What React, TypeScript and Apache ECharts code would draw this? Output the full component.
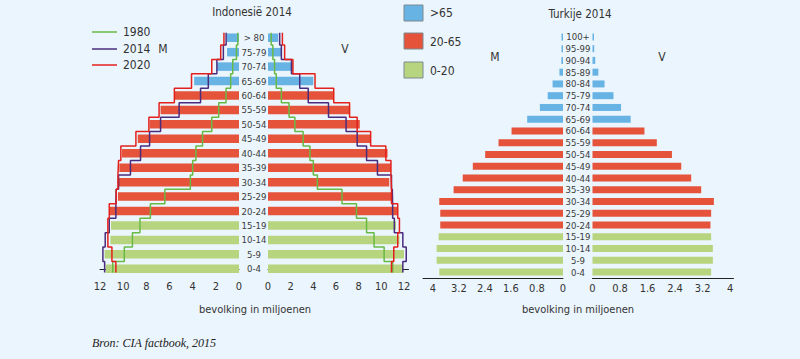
import React, { useEffect, useRef } from 'react';
import * as echarts from 'echarts';

// ---------- data ----------
const indoAges = ['0-4', '5-9', '10-14', '15-19', '20-24', '25-29', '30-34', '35-39', '40-44', '45-49', '50-54', '55-59', '60-64', '65-69', '70-74', '75-79', '> 80'];
const indoBarsM = [11.5, 11.6, 11.1, 11.05, 11.2, 10.45, 10.4, 10.33, 10.1, 8.74, 7.7, 6.77, 5.6, 3.87, 1.9, 1.03, 1.05];
const indoBarsV = [11.9, 12.0, 11.6, 11.3, 11.45, 10.9, 10.7, 10.85, 10.55, 9.06, 8.1, 7.2, 5.8, 4.0, 2.2, 1.2, 0.9];
const m1980 = [10.9, 9.9, 9.2, 8.55, 7.65, 6.4, 4.2, 4.0, 3.72, 3.15, 2.35, 1.75, 1.12, 0.72, 0.54, 0.22, 0.1];
const m2014 = [11.6, 11.75, 11.55, 11.2, 10.63, 10.6, 10.4, 9.37, 8.5, 7.72, 6.77, 5.17, 3.32, 2.65, 1.91, 1.35, 1.11];
const m2020 = [10.63, 10.97, 11.32, 11.32, 11.2, 10.6, 10.45, 10.4, 10.2, 8.9, 7.78, 6.9, 5.58, 4.1, 2.35, 1.58, 1.3];
const v1980 = [11.0, 10.25, 9.36, 8.7, 7.81, 6.53, 4.36, 4.0, 3.7, 3.1, 2.37, 1.86, 1.18, 0.73, 0.58, 0.43, 0.28];
const v2014 = [11.9, 12.2, 11.9, 11.15, 11.0, 10.97, 10.9, 9.66, 8.7, 7.87, 6.89, 5.34, 3.55, 2.8, 2.07, 1.18, 1.03];
const v2020 = [10.9, 11.1, 11.45, 11.6, 11.45, 10.9, 10.85, 10.85, 10.4, 9.06, 7.87, 7.2, 5.8, 4.15, 2.2, 1.47, 1.27];

const turAges = ['0-4', '5-9', '10-14', '15-19', '20-24', '25-29', '30-34', '35-39', '40-44', '45-49', '50-54', '55-59', '60-64', '65-69', '70-74', '75-79', '80-84', '85-89', '90-94', '95-99', '100+'];
const turM = [3.8, 3.88, 3.88, 3.82, 3.77, 3.77, 3.8, 3.36, 3.08, 2.77, 2.39, 1.98, 1.58, 1.1, 0.71, 0.47, 0.32, 0.11, 0.05, 0.04, 0.04];
const turV = [3.45, 3.5, 3.5, 3.45, 3.43, 3.45, 3.53, 3.16, 2.87, 2.58, 2.31, 1.87, 1.51, 1.11, 0.83, 0.61, 0.35, 0.17, 0.08, 0.05, 0.04];

const indoTicks = [0, 2, 4, 6, 8, 10, 12];
const turTicks = [0, 0.8, 1.6, 2.4, 3.2, 4];

const groupNames = ['>65', '20-65', '0-20'];
const lineYears = ['1980', '2014', '2020'];

// ---------- styles ----------
const BG = '#EBF5FD';
const BLUE = '#67B3E4';
const RED = '#E4533A';
const GREEN = '#B7D47E';
const LINE_GREEN = '#68BA45';
const LINE_PURPLE = '#4A2C7E';
const LINE_RED = '#E3201C';
const LINE_COLORS = [LINE_GREEN, LINE_PURPLE, LINE_RED];
const TXT = '#333333';
const FONT = "'DejaVu Sans Condensed', 'Liberation Sans Narrow', 'Roboto Condensed', Roboto, sans-serif";

const ageColor = (i: number) => (i <= 3 ? GREEN : i <= 12 ? RED : BLUE);

function steps(vals: number[]) {
  const pts: number[][] = [];
  const n = vals.length;
  vals.forEach((v, i) => {
    pts.push([v, i === 0 ? -0.25 : i - 0.5]);
    pts.push([v, i === n - 1 ? n - 0.65 : i + 0.5]);
  });
  return pts;
}

function tickFormatter(ticks: number[]) {
  return (v: number) => {
    const hit = ticks.find((t) => Math.abs(t - v) < 1e-6);
    return hit === undefined ? '' : String(hit);
  };
}

export default function App() {
  const ref = useRef<HTMLDivElement>(null);

  useEffect(() => {
    document.body.style.margin = '0';
    document.body.style.background = BG;
    if (!ref.current) return;
    const chart = echarts.init(ref.current, null, { renderer: 'svg' });

    const xBase = (gridIndex: number, max: number, interval: number, inverse: boolean, ticks: number[]) => ({
      type: 'value',
      gridIndex,
      min: 0,
      max,
      interval,
      inverse,
      axisLine: { show: true, lineStyle: { color: '#222', width: 1 } },
      axisTick: { show: false },
      splitLine: { show: false },
      axisLabel: { color: TXT, fontSize: 11, margin: 5, fontFamily: FONT, formatter: tickFormatter(ticks) },
    });

    const lineSeries = (name: string, vals: number[], color: string, xi: number, yi: number) => ({
      type: 'line',
      name,
      xAxisIndex: xi,
      yAxisIndex: yi,
      data: steps(vals),
      symbol: 'none',
      showSymbol: false,
      lineStyle: { color, width: 1.5 },
      itemStyle: { color },
      z: 5,
    });

    const barSeries = (vals: number[], xi: number, yi: number, w: number) => ({
      type: 'bar',
      xAxisIndex: xi,
      yAxisIndex: yi,
      data: vals,
      barWidth: w,
      barMinHeight: 1.5,
      itemStyle: { color: (p: any) => ageColor(p.dataIndex) },
      z: 2,
    });

    const legendBoxes = groupNames.map((g, i) => ({
      type: 'rect',
      shape: { x: 404, y: [5, 33, 62][i], width: 19, height: 16 },
      style: { fill: [BLUE, RED, GREEN][i], stroke: '#7d8a8f', lineWidth: 1 },
    }));
    const legendTexts = groupNames.map((g, i) => ({
      type: 'text',
      x: 430,
      y: [13, 42, 71][i],
      style: { text: g, fill: TXT, fontSize: 12, fontFamily: FONT, verticalAlign: 'middle' },
    }));
    const lineLegendY = [32, 49, 65];
    const lineLegend = lineYears.flatMap((yr, i) => [
      {
        type: 'line',
        shape: { x1: 92, y1: lineLegendY[i], x2: 117, y2: lineLegendY[i] },
        style: { stroke: LINE_COLORS[i], lineWidth: 1.5 },
      },
      {
        type: 'text',
        x: 123,
        y: lineLegendY[i],
        style: { text: yr, fill: TXT, fontSize: 12, fontFamily: FONT, verticalAlign: 'middle' },
      },
    ]);

    const txt = (text: string, x: number, y: number, extra: any = {}) => ({
      type: 'text',
      x,
      y,
      style: { text, fill: TXT, fontSize: 12, fontFamily: FONT, align: 'center', verticalAlign: 'middle', ...extra },
    });

    const catLabel = { align: 'center', margin: 14, color: '#3a3a3a', fontSize: 9.5, fontFamily: FONT, interval: 0 };

    chart.setOption({
      animation: false,
      backgroundColor: BG,
      textStyle: { fontFamily: FONT },
      grid: [
        { left: 100, right: 561, top: 30.5, bottom: 83 },
        { left: 268, right: 391.5, top: 30.5, bottom: 83 },
        { left: 423, right: 237, top: 31, bottom: 81 },
        { left: 592.5, right: 66.5, top: 31, bottom: 81 },
      ],
      xAxis: [
        xBase(0, 12, 2, true, indoTicks),
        xBase(1, 12.4, 2, false, indoTicks),
        xBase(2, 4.3, 0.8, true, turTicks),
        xBase(3, 4.1, 0.8, false, turTicks),
      ],
      yAxis: [
        { type: 'category', gridIndex: 0, data: indoAges, show: false },
        { type: 'value', gridIndex: 0, min: -0.5, max: indoAges.length - 0.5, show: false },
        {
          type: 'category', gridIndex: 1, data: indoAges, position: 'left',
          axisLine: { show: false }, axisTick: { show: false },
          axisLabel: catLabel,
        },
        { type: 'value', gridIndex: 1, min: -0.5, max: indoAges.length - 0.5, show: false },
        { type: 'category', gridIndex: 2, data: turAges, show: false },
        {
          type: 'category', gridIndex: 3, data: turAges, position: 'left',
          axisLine: { show: false }, axisTick: { show: false },
          axisLabel: { ...catLabel, margin: 14.5 },
        },
      ],
      series: [
        barSeries(indoBarsM, 0, 0, 8.5),
        barSeries(indoBarsV, 1, 2, 8.5),
        barSeries(turM, 2, 4, 7),
        barSeries(turV, 3, 5, 7),
        lineSeries('1980', m1980, LINE_GREEN, 0, 1),
        lineSeries('2014', m2014, LINE_PURPLE, 0, 1),
        lineSeries('2020', m2020, LINE_RED, 0, 1),
        lineSeries('1980', v1980, LINE_GREEN, 1, 3),
        lineSeries('2014', v2014, LINE_PURPLE, 1, 3),
        lineSeries('2020', v2020, LINE_RED, 1, 3),
      ],
      graphic: [
        txt('Indonesië 2014', 252, 12, { fontSize: 11.5 }),
        txt('Turkije 2014', 580, 14, { fontSize: 11.5 }),
        txt('M', 163, 49),
        txt('V', 345, 49),
        txt('M', 495, 57),
        txt('V', 662, 57),
        txt('bevolking in miljoenen', 255, 309, { fontSize: 11 }),
        txt('bevolking in miljoenen', 578, 309, { fontSize: 11 }),
        {
          type: 'text',
          x: 92,
          y: 343,
          style: {
            text: 'Bron: CIA factbook, 2015', fill: '#222', fontSize: 12,
            fontFamily: "'Liberation Serif', 'DejaVu Serif', serif", fontStyle: 'italic',
            verticalAlign: 'middle',
          },
        },
        ...lineLegend,
        ...legendBoxes,
        ...legendTexts,
      ],
    });

    return () => chart.dispose();
  }, []);

  return <div ref={ref} style={{ width: 800, height: 359, background: BG }} />;
}
